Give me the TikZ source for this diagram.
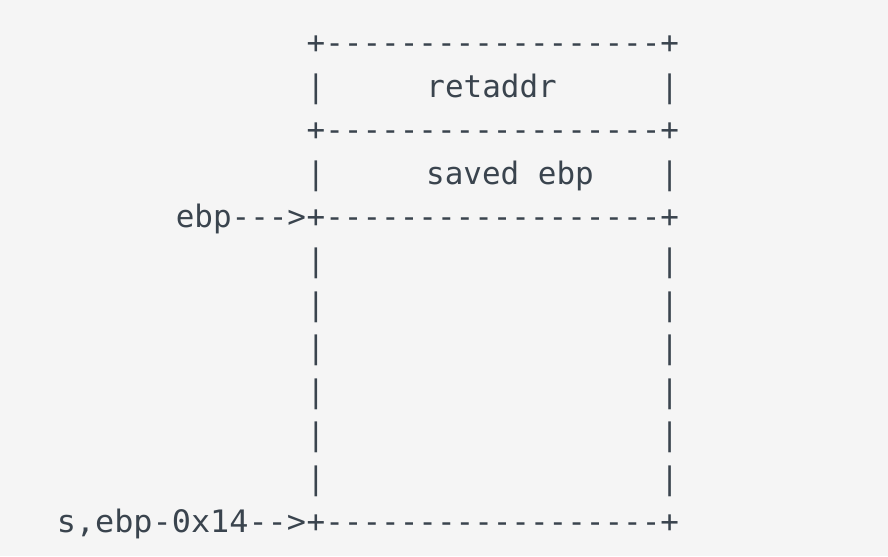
\documentclass[tikz,border=0pt]{standalone}
\usepackage{fontspec}
\setmonofont{DejaVu Sans Mono}
\usepackage{tikz}

\definecolor{bgpaper}{RGB}{245,245,245}
\definecolor{inkslate}{RGB}{58,68,78}

\tikzset{
    asciirow/.style = {anchor = base west, inner sep = 0pt, text = inkslate,
                       font = \ttfamily\fontsize{22}{26}\selectfont},
    asciilabel/.style = {asciirow, anchor = base},
    asciipointer/.style = {asciirow, anchor = base east}
}

\begin{document}
\begin{tikzpicture}
        \fill[bgpaper] (0, 0) rectangle (22.2, 13.9);
        \useasboundingbox (0, 0) rectangle (22.2, 13.9);
        % frame of the stack, one node per text row
        \node[asciirow] (top)    at (7.66, 12.5575) {+------------------+};
        \node[asciirow] (row2)   at (7.66, 11.4682) {|~~~~~~~~~~~~~~~~~~|};
        \node[asciirow] (mid)    at (7.66, 10.3789) {+------------------+};
        \node[asciirow] (row4)   at (7.66,  9.2896) {|~~~~~~~~~~~~~~~~~~|};
        \node[asciirow] (ebpsep) at (7.66,  8.2003) {+------------------+};
        \foreach \k in {1, ..., 6}
            \node[asciirow] (empty\k) at (7.66, 8.2003 - \k*1.0893) {|~~~~~~~~~~~~~~~~~~|};
        \node[asciirow] (bottom) at (7.66,  0.5752) {+------------------+};
        % slot names
        \node[asciilabel] (retaddr) at (12.29, 11.4682) {retaddr};
        \node[asciilabel] (savedbp) at (12.75,  9.2896) {saved~ebp};
        % pointers on the left
        \node[asciipointer] (ebp) at (ebpsep.base west) {ebp--{}->};
        \node[asciipointer, xscale = 1.03] (sptr) at (bottom.base west) {s,ebp-0x14--{}>};
    \end{tikzpicture}
\end{document}
